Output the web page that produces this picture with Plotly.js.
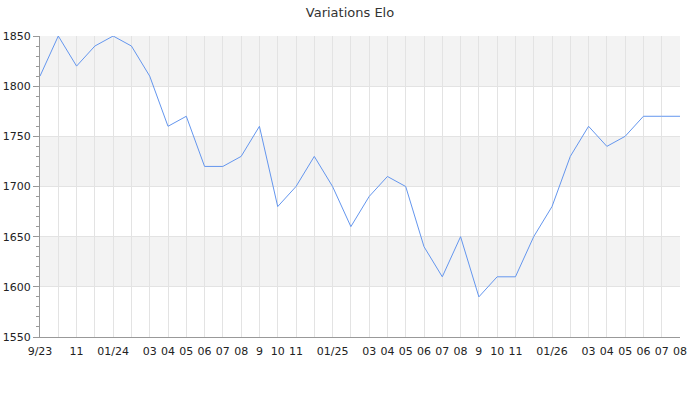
<!DOCTYPE html>
<html>
<head>
<meta charset="utf-8">
<script src="https://cdn.plot.ly/plotly-3.0.1.min.js"></script>
<style>html,body{margin:0;padding:0;background:#fff}#chart{width:700px;height:400px}</style>
</head>
<body>
<div id="chart"></div>
<script>
const months = ["2023-09","2023-10","2023-11","2023-12","2024-01","2024-02","2024-03","2024-04","2024-05","2024-06","2024-07","2024-08","2024-09","2024-10","2024-11","2024-12","2025-01","2025-02","2025-03","2025-04","2025-05","2025-06","2025-07","2025-08","2025-09","2025-10","2025-11","2025-12","2026-01","2026-02","2026-03","2026-04","2026-05","2026-06","2026-07","2026-08"];
const elo = [1810,1850,1820,1840,1850,1840,1810,1760,1770,1720,1720,1730,1760,1680,1700,1730,1700,1660,1690,1710,1700,1640,1610,1650,1590,1610,1610,1650,1680,1730,1760,1740,1750,1770,1770,1770];
const tickLabels = ["9/23","","11","","01/24","","03","04","05","06","07","08","9","10","11","","01/25","","03","04","05","06","07","08","9","10","11","","01/26","","03","04","05","06","07","08"];
const shadedBands = [[1600,1650],[1700,1750],[1800,1850]];

const idx = months.map((m,i)=>i);
const shapes = shadedBands.map(b=>({type:'rect',xref:'paper',yref:'y',x0:0,x1:1,y0:b[0],y1:b[1],fillcolor:'#f3f3f3',line:{width:0},layer:'below'}));

Plotly.newPlot('chart',[{
  x: idx, y: elo, type:'scatter', mode:'lines',
  line:{color:'#6496ee',width:1}, hoverinfo:'x+y'
}],{
  width:700,height:400,
  margin:{l:40,r:20,t:36,b:63},
  paper_bgcolor:'#fff',plot_bgcolor:'rgba(0,0,0,0)',
  font:{family:'DejaVu Sans',size:11,color:'#333'},
  title:{text:'Variations Elo',font:{family:'DejaVu Sans',size:13,color:'#333'},xref:'container',yref:'container',x:0.5,xanchor:'center',y:0.97,yanchor:'middle'},
  showlegend:false,
  shapes:shapes,
  xaxis:{range:[0,months.length-1],tickmode:'array',tickvals:idx,ticktext:tickLabels,tickangle:0,
    showgrid:true,gridcolor:'#e3e3e3',gridwidth:1,ticks:'',zeroline:false,ticklabelstandoff:4,
    showline:true,linecolor:'#999',linewidth:1,fixedrange:true,tickfont:{size:11,color:'#222'}},
  yaxis:{range:[1550,1850],dtick:50,tick0:1550,showgrid:true,gridcolor:'#e3e3e3',gridwidth:1,
    ticks:'outside',ticklen:6,tickcolor:'#999',showline:true,linecolor:'#999',linewidth:1,zeroline:false,
    minor:{dtick:10,ticks:'outside',ticklen:3,tickcolor:'#999',showgrid:false},
    tickfont:{size:11,color:'#222'}}
},{displayModeBar:false,staticPlot:true});
</script>
</body>
</html>
